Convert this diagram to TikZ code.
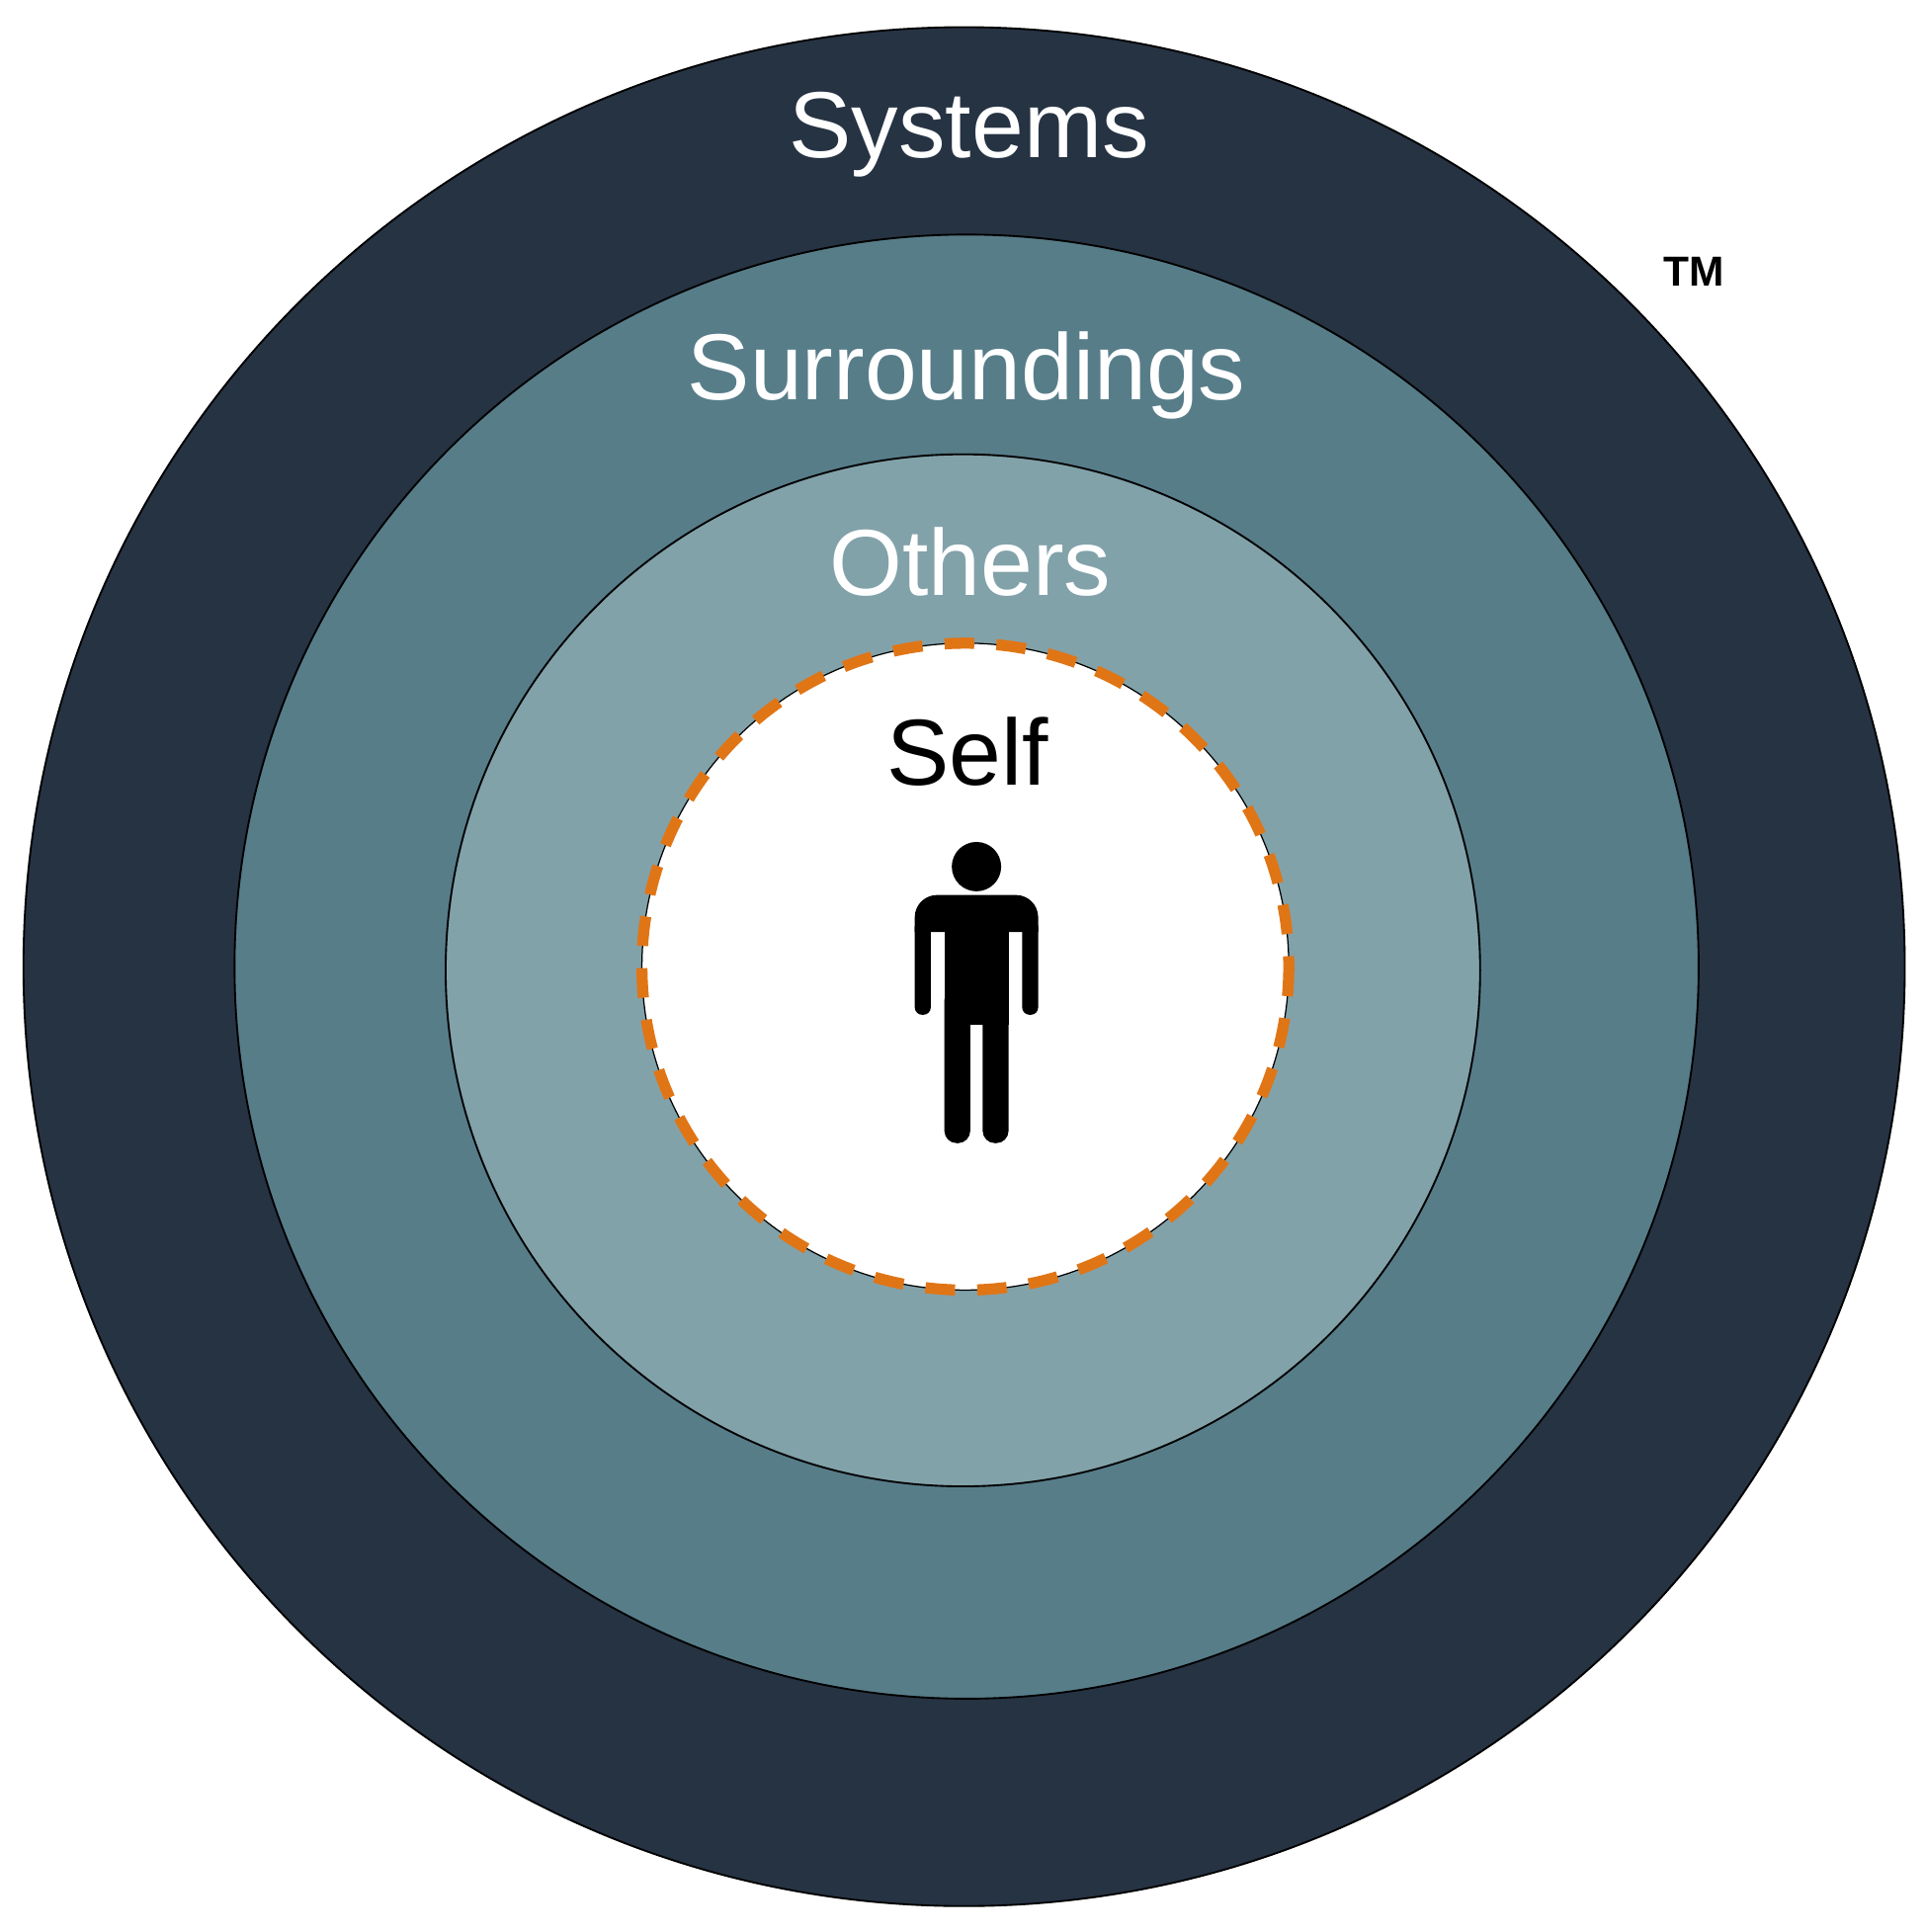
\documentclass[tikz,border=0pt]{standalone}
\usepackage{fontspec}
\setmainfont{Liberation Sans}
\definecolor{cA}{HTML}{263343}
\definecolor{cB}{HTML}{577D89}
\definecolor{cC}{HTML}{82A2AA}
\definecolor{cO}{HTML}{E07516}
\begin{document}
\begin{tikzpicture}[x=1pt,y=-1pt,
  ring/.style={draw=black,line width=1.5pt},
  lbl/.style={font=\fontsize{76}{76}\selectfont,text=white}]
\useasboundingbox (0,0) rectangle (1560,1565);
\fill[white] (0,0) rectangle (1560,1565);
\filldraw[ring,fill=cA] (781,783) ellipse [x radius=762,y radius=761];
\filldraw[ring,fill=cB] (783,783) circle [radius=593];
\filldraw[ring,fill=cC] (780,786) ellipse [x radius=419,y radius=418];
\filldraw[draw=black,line width=1pt,fill=white] (782,783) circle [radius=262];
\draw[cO,line width=9pt,dash pattern=on 24pt off 18pt] (782,783) circle [radius=262];
\node[lbl] (sys) at (785,109) {Systems};
\node[lbl] (sur) at (783,304) {Surroundings};
\node[lbl] (oth) at (786,455) {Others};
\node[lbl,text=black] (self) at (784,609) {Self};
\node[font=\fontsize{34}{34}\selectfont\bfseries] (tm) at (1372,220) {TM};
\fill[black] (791,702) circle [radius=20];
\fill[black] (741,755) [rounded corners=18] -- (741,725) -- (841,725) [sharp corners] -- (841,755) -- cycle;
\fill[black,rounded corners=6] (741,745) rectangle (754,822);
\fill[black,rounded corners=6] (828,745) rectangle (841,822);
\fill[black] (765,725) rectangle (817,830);
\fill[black,rounded corners=10] (765,800) rectangle (786,926);
\fill[black,rounded corners=10] (796,800) rectangle (817,926);
\end{tikzpicture}
\end{document}
